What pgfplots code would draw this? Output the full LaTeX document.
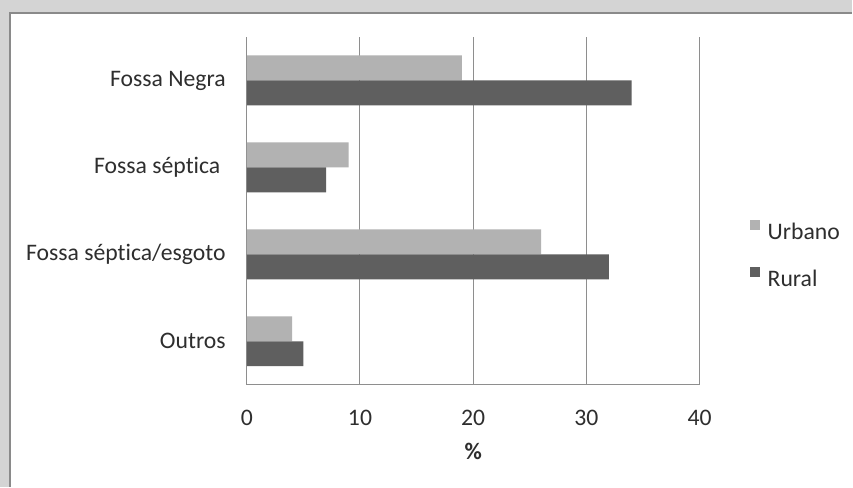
\documentclass[border=0pt]{standalone}
\usepackage{fontspec}
\setmainfont{Carlito}[Ligatures={NoCommon}]
\usepackage{pgfplots}
\pgfplotsset{compat=1.18}
\definecolor{urb}{HTML}{B2B2B2}
\definecolor{rur}{HTML}{5F5F5F}
\definecolor{gridc}{HTML}{8E8E8E}
\definecolor{outerc}{HTML}{D4D4D4}
\definecolor{framec}{HTML}{8A8A8A}
\definecolor{txt}{HTML}{2E2E2E}
\begin{document}
\begin{tikzpicture}[x=1pt,y=1pt]
\fill[outerc] (0,0) rectangle (853,487);
\fill[white] (10,0) rectangle (853,474);
\draw[framec, line width=1.2pt] (10,0) -- (10,474) -- (853,474);
\begin{axis}[
  at={(247pt,102pt)}, anchor=south west,
  scale only axis, width=453pt, height=348pt,
  xbar, bar width=25pt,
  xmin=0, xmax=40, ymin=-0.5, ymax=3.5,
  enlargelimits=false,
  xtick={0,10,20,30,40},
  ytick={0,1,2,3},
  yticklabels={Outros, Fossa séptica/esgoto, Fossa séptica\hspace*{0.226em}, Fossa Negra},
  axis x line*=bottom, axis y line*=left,
  axis line style={gridc, line width=1pt, -},
  xmajorgrids, major grid style={gridc, line width=1pt},
  major tick length=0pt,
  font=\fontsize{23.7}{28}\selectfont,
  /pgf/number format/assume math mode=true,
  every tick label/.append style={txt},
  yticklabel style={inner sep=0pt, anchor=east, xshift=-21pt},
  xticklabel style={inner sep=0pt, anchor=north, yshift=-25pt},
  xlabel={\bfseries\%},
  xlabel style={at={(axis description cs:0.5,0)}, anchor=center, yshift=-67pt, txt, inner sep=0pt},
  legend image code/.code={\draw[#1, draw=none] (0pt,2pt) rectangle (10pt,12pt);},
  legend style={at={(1,0.475)}, anchor=north west, xshift=50pt, draw=none, fill=none,
    inner sep=0pt, row sep=28pt, column sep=8pt,
    nodes={inner sep=0pt, text height=15pt, text depth=0pt, txt}},
  legend cell align=left,
]
\addplot[fill=urb, draw=none, bar shift=12.5pt] coordinates {(4,0) (26,1) (9,2) (19,3)};
\addplot[fill=rur, draw=none, bar shift=-12.5pt] coordinates {(5,0) (32,1) (7,2) (34,3)};
\legend{Urbano, Rural}
\end{axis}
\end{tikzpicture}
\end{document}
